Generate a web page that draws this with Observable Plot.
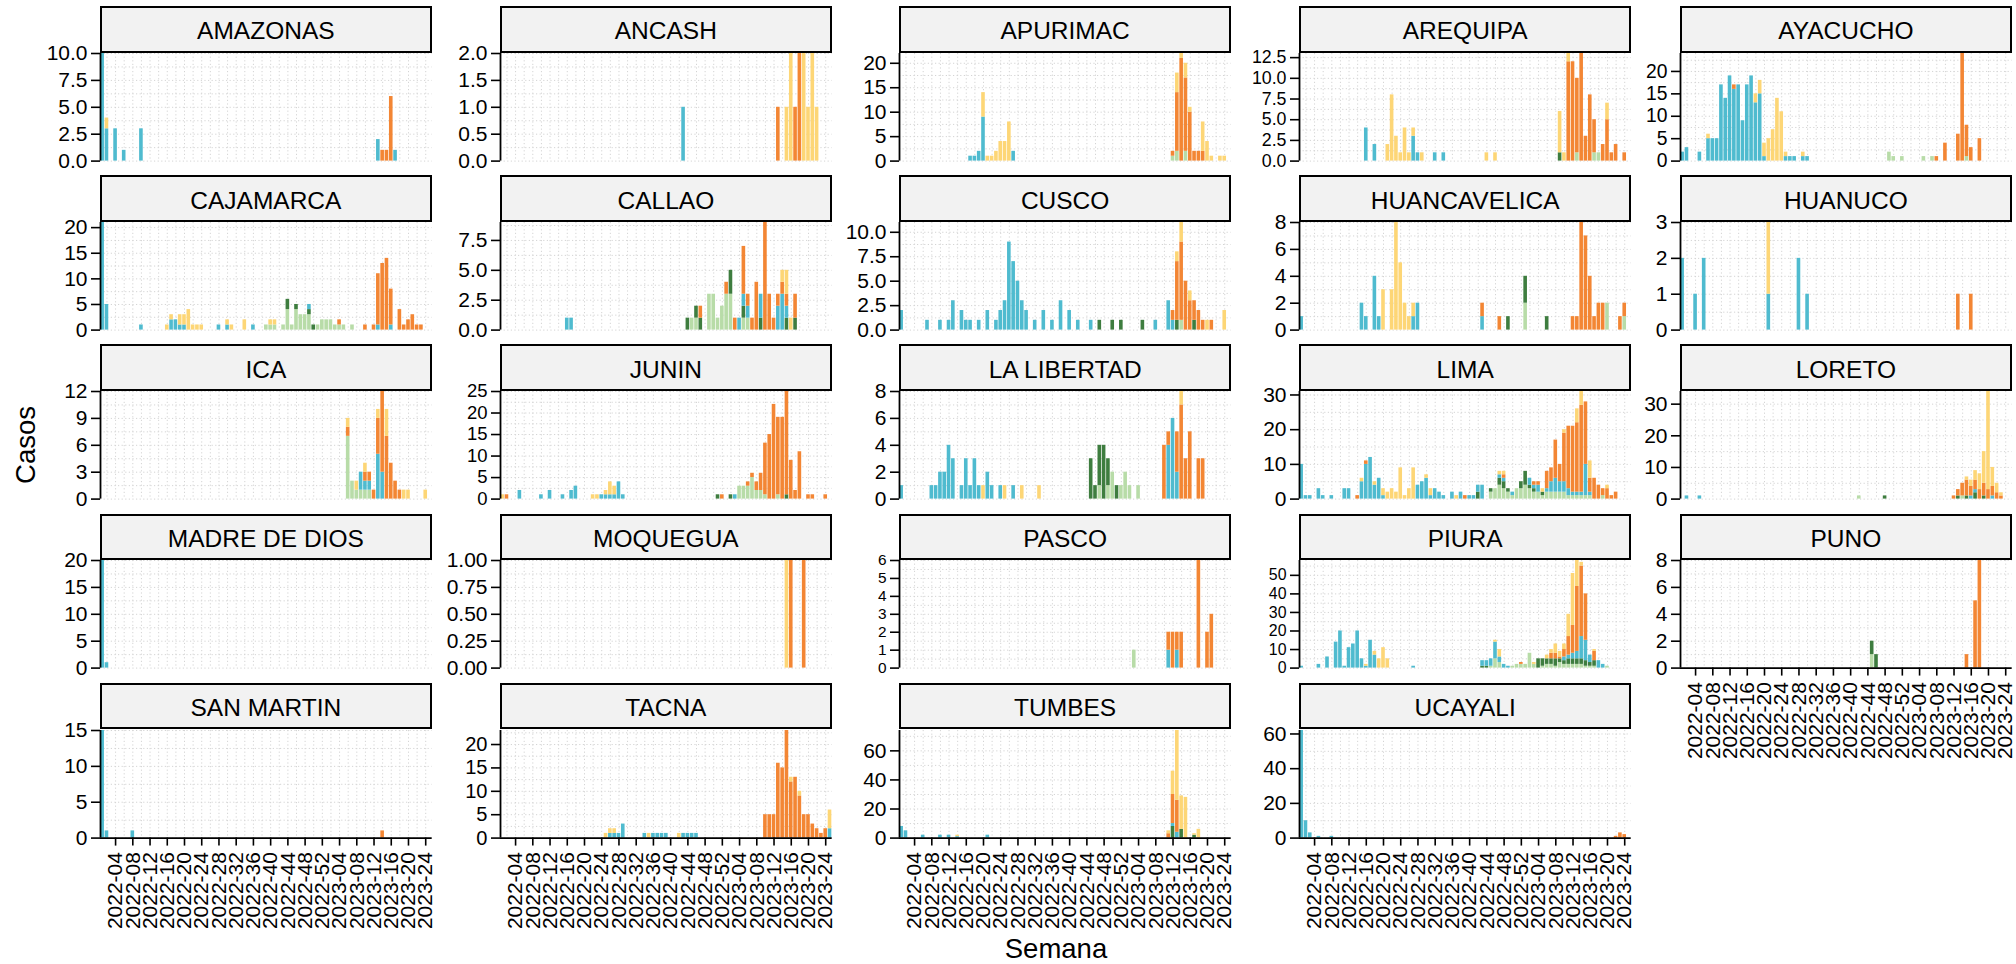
<!DOCTYPE html>
<html><head><meta charset="utf-8">
<script src="https://cdn.jsdelivr.net/npm/d3@7"></script>
<script src="https://cdn.jsdelivr.net/npm/@observablehq/plot@0.6"></script>
<style>
body{margin:0;background:#fff;color:#000;font-family:"Liberation Sans",Arial,sans-serif;}
#root{position:relative;width:2016px;height:964px;overflow:hidden;background:#fff;}
.strip{position:absolute;box-sizing:border-box;border:2px solid #000;background:#F2F2F2;font-size:24.5px;color:#000;display:flex;align-items:center;justify-content:center;padding-top:4px;white-space:nowrap;}
.panel{position:absolute;}
.title{position:absolute;font-size:27.5px;color:#000;text-align:center;white-space:nowrap;}
</style></head><body><div id="root"></div>
<script>
// ---- series (stack order bottom -> top) ----
const seriesKeys = ["L", "D", "B", "O", "Y"];
const seriesNames = ["Linaje L", "Linaje D", "Linaje B", "Linaje O", "Linaje Y"];
const seriesColors = ["#B8DCA8", "#3E7D3F", "#4FBBCF", "#F38634", "#FDD676"];

// ---- facets ----
const regions = ["AMAZONAS","ANCASH","APURIMAC","AREQUIPA","AYACUCHO",
  "CAJAMARCA","CALLAO","CUSCO","HUANCAVELICA","HUANUCO",
  "ICA","JUNIN","LA LIBERTAD","LIMA","LORETO",
  "MADRE DE DIOS","MOQUEGUA","PASCO","PIURA","PUNO",
  "SAN MARTIN","TACNA","TUMBES","UCAYALI"];

// ---- x axis (week index 1 = 2022-01 ... 77 = 2023-25) ----
const weekTicks = [4,8,12,16,20,24,28,32,36,40,44,48,52,56,60,64,68,72,76];
const weekLabels = ["2022-04","2022-08","2022-12","2022-16","2022-20","2022-24","2022-28","2022-32","2022-36","2022-40","2022-44","2022-48","2022-52","2023-04","2023-08","2023-12","2023-16","2023-20","2023-24"];

// ---- values: "week:count" per series ----
const AMAZONAS = {B:"1:10 2:3 4:3 6:1 10:3 65:2 69:1", Y:"2:1", O:"66:1 67:1 68:6"};
const ANCASH = {B:"43:1", O:"65:1 69:1 70:2", Y:"67:1 68:2 71:2 72:1 73:2 74:1"};
const APURIMAC = {L:"64:1 65:2 67:2", B:"17:1 18:1 19:2 20:9 27:2", O:"64:1 65:12 66:21 67:15 68:10 69:2 70:2 71:2", Y:"20:5 21:1 22:1 23:2 24:4 25:4 26:8 65:4 66:1 67:3 68:1 71:6 72:4 73:1 75:1 76:1"};
const AREQUIPA = {L:"65:1 69:1 70:1", D:"61:1", B:"16:4 18:2 27:3 28:1 32:1 34:1", O:"63:12 64:12 65:9 66:13 67:3 68:8 69:4 71:2 72:5 73:1 74:2 76:1", Y:"21:2 22:8 23:3 24:1 25:4 26:1 27:1 29:1 44:1 46:1 61:5 62:1 63:1 72:2"};
const AYACUCHO = {L:"49:2 50:1 52:1 57:1 59:1 67:1", B:"1:2 2:3 5:2 7:5 8:5 9:5 10:17 11:14 12:19 13:16 14:17 15:9 16:17 17:19 18:13 19:15 20:1 25:1 26:1 27:1 29:1 30:1", O:"13:1 60:1 62:4 65:6 66:24 67:7 68:3 70:5", Y:"7:1 18:2 19:3 20:3 21:5 22:7 23:14 24:11 25:1 29:1"};
const CAJAMARCA = {L:"39:1 40:1 41:1 43:1 44:4 45:1 46:4 47:3 48:3 49:3 51:1 52:2 53:2 54:2 55:1 56:1 57:1 59:1", D:"44:2 46:1 49:1 50:1", B:"1:21 2:5 10:1 17:2 18:2 19:1 20:1 28:1 30:1 36:1 49:1 65:1 68:1", O:"56:1 62:1 64:1 65:10 66:13 67:14 68:7 70:4 71:1 72:2 73:3 74:1 75:1", Y:"16:1 17:1 19:2 20:2 21:4 22:1 23:1 24:1 30:1 31:1 34:2 40:1 41:1"};
const CALLAO = {L:"45:1 46:1 49:3 50:3 51:1 52:2 53:3 54:3 57:1 58:1", D:"44:1 46:1 47:1 54:2 57:1 61:1 67:1 69:1", B:"16:1 17:1 56:1 57:1 58:1 61:2 65:2 66:3 67:1", O:"47:1 53:1 55:1 57:4 58:1 59:1 60:4 62:9 63:3 64:1 65:1 66:1 67:1 69:2", Y:"66:1 67:2 68:1"};
const CUSCO = {L:"66:1", D:"47:1 50:1 52:1 57:1 65:1 69:1", B:"1:2 7:1 10:1 12:1 13:3 15:2 16:1 17:1 19:1 21:2 23:1 24:2 25:3 26:9 27:7 28:5 29:3 30:2 32:1 34:2 36:1 38:3 40:2 42:1 45:1 60:1 63:3 64:1", O:"64:1 65:6 66:8 67:5 68:3 69:2 70:2 71:1 73:1", Y:"65:1 66:2 68:1 72:1 76:2"};
const HUANCAVELICA = {L:"53:2 72:2 76:1", D:"49:1 53:2 58:1", B:"1:1 15:2 16:1 18:4 19:1 27:1 28:2 43:1", O:"43:1 47:1 64:1 65:1 66:8 67:7 68:4 69:1 70:2 71:2 75:1 76:1", Y:"20:3 22:3 23:8 24:5 25:2 26:1 27:1"};
const HUANUCO = {B:"1:2 4:1 6:2 21:1 28:2 30:1", O:"65:1 68:1", Y:"21:2"};
const ICA = {L:"58:7 59:2 60:1 61:1 62:1 63:1", B:"61:2 62:1 63:1 65:5 66:3", O:"58:1 62:1 63:1 64:1 65:4 66:9 67:7 68:4 69:2 70:1", Y:"58:1 60:1 62:1 65:1 67:3 71:1 72:1 76:1"};
const JUNIN = {L:"56:3 57:3 58:3 59:5 60:2 61:2 62:1 65:1", D:"51:1 54:1 67:1", B:"5:2 10:1 12:2 15:1 17:2 18:3 24:1 25:1 26:1 27:1 28:4 29:1 55:1", O:"2:1 52:1 58:1 59:1 60:2 61:4 62:12 63:15 64:22 65:18 66:19 67:24 68:9 69:2 70:11 72:1 73:1 76:1", Y:"1:1 22:1 23:1 25:1 26:3 27:2"};
const LA_LIBERTAD = {L:"47:1 49:1 50:2 52:1 53:2 54:1 56:1", D:"45:3 46:1 47:3 48:4 49:2 51:1", B:"1:1 8:1 9:1 10:2 11:2 12:4 13:3 15:1 16:3 17:1 18:3 19:1 21:2 22:1 24:1 27:1 63:4 64:6 65:2", O:"62:4 63:1 65:3 66:7 67:3 68:5 70:3 71:3", Y:"20:1 25:1 29:1 33:1 66:1"};
const LIMA = {L:"45:2 46:3 47:4 48:3 49:2 50:1 51:3 52:3 53:4 54:3 55:2 56:2 57:1 58:2 59:2 60:2 61:2 62:2 63:1 64:1 65:1 66:1 67:1 68:1 71:1", D:"42:2 45:1 47:2 48:2 49:1 52:2 53:4 54:1 55:1 57:1", B:"1:10 2:1 3:1 5:3 6:1 8:1 11:3 12:3 15:5 16:10 17:12 18:4 19:6 20:1 28:4 29:5 30:6 31:1 32:3 33:2 34:1 36:2 38:2 40:1 41:1 42:2 43:4 47:1 48:1 50:1 54:2 55:1 56:2 58:1 59:3 60:4 61:3 62:3 63:2 64:1 65:1 66:1 67:9 68:1", O:"14:1 16:1 39:1 48:1 55:1 56:1 58:5 59:4 60:11 61:5 62:14 63:18 64:19 65:20 66:25 67:18 68:4 69:6 70:4 71:2 72:3 73:1 74:2", Y:"15:1 18:1 20:2 21:2 22:3 23:2 24:9 25:1 26:3 27:9 30:1 31:2 37:1 47:1 48:1 57:1 62:1 65:4 66:4 68:5 72:1"};
const LORETO = {L:"42:1 66:1", D:"48:1 65:1 67:1 69:2 71:1", B:"2:1 5:1 68:1 69:1 73:1", O:"64:1 65:2 66:4 67:5 68:3 69:3 70:3 71:4 72:3 73:3 74:2 75:1", Y:"67:1 68:2 69:3 70:5 71:10 72:31 73:6 74:3 75:1"};
const MADRE_DE_DIOS = {B:"1:20 2:1"};
const MOQUEGUA = {O:"68:1 71:1", Y:"67:1"};
const PASCO = {L:"55:1", B:"63:1 65:1", O:"63:1 64:2 65:1 66:2 70:6 72:2 73:3"};
const PIURA = {L:"45:1 46:5 47:3 50:1 51:2 52:2 53:2 54:8 55:2 57:1 58:2 59:2 60:1 61:3 62:2 63:2 64:2 65:2 66:2 67:1 68:1 69:1 72:1", D:"43:1 44:1 56:5 57:4 58:3 59:3 60:4 61:2 62:2 63:3 64:3 65:3 66:3 67:3 68:2 69:3", B:"1:1 5:2 7:6 9:14 10:20 11:1 12:11 13:13 14:20 15:5 16:1 17:15 18:7 27:1 43:3 44:3 45:4 46:9 47:3 48:2 49:1 62:2 63:2 64:3 65:4 66:12 67:11 68:4 70:4 71:2", O:"52:1 59:3 60:3 61:1 62:4 63:10 64:15 65:35 66:38 67:25 69:5", Y:"16:1 18:2 19:5 20:11 21:5 46:1 47:4 55:1 58:2 59:2 60:5 61:3 62:3 63:12 64:28 65:14 66:2 69:1"};
const PUNO = {L:"45:1", D:"45:1 46:1", O:"67:1 69:5 70:8"};
const SAN_MARTIN = {B:"1:15 2:1 8:1", O:"66:1"};
const TACNA = {B:"26:1 27:1 28:1 29:3 34:1 36:1 37:1 38:1 39:1 43:1 44:1 45:1 46:1 77:2", O:"62:5 63:5 64:5 65:16 66:15 67:23 68:12 69:13 70:9 71:5 72:5 73:3 74:2 75:1 76:2", Y:"25:1 26:1 27:1 35:1 42:1 68:1 70:1 77:4"};
const TUMBES = {D:"64:8 66:6 69:2", B:"1:8 2:5 6:2 10:2 12:2 14:1 21:2 64:2 65:4", O:"63:3 64:20 65:22", Y:"14:1 63:2 64:16 65:48 66:23 67:28 69:1 70:6"};
const UCAYALI = {B:"1:62 2:10 3:3 5:1 8:1", O:"74:1 75:3 76:2"};

const regionData = {AMAZONAS, ANCASH, APURIMAC, AREQUIPA, AYACUCHO, CAJAMARCA, CALLAO, CUSCO,
  HUANCAVELICA, HUANUCO, ICA, JUNIN, "LA LIBERTAD": LA_LIBERTAD, LIMA, LORETO,
  "MADRE DE DIOS": MADRE_DE_DIOS, MOQUEGUA, PASCO, PIURA, PUNO, "SAN MARTIN": SAN_MARTIN,
  TACNA, TUMBES, UCAYALI};

// ---- y tick values per facet ----
const yTicks = {
  "AMAZONAS":[0,2.5,5,7.5,10], "ANCASH":[0,0.5,1,1.5,2], "APURIMAC":[0,5,10,15,20],
  "AREQUIPA":[0,2.5,5,7.5,10,12.5], "AYACUCHO":[0,5,10,15,20], "CAJAMARCA":[0,5,10,15,20],
  "CALLAO":[0,2.5,5,7.5], "CUSCO":[0,2.5,5,7.5,10], "HUANCAVELICA":[0,2,4,6,8],
  "HUANUCO":[0,1,2,3], "ICA":[0,3,6,9,12], "JUNIN":[0,5,10,15,20,25],
  "LA LIBERTAD":[0,2,4,6,8], "LIMA":[0,10,20,30], "LORETO":[0,10,20,30],
  "MADRE DE DIOS":[0,5,10,15,20], "MOQUEGUA":[0,0.25,0.5,0.75,1], "PASCO":[0,1,2,3,4,5,6],
  "PIURA":[0,10,20,30,40,50], "PUNO":[0,2,4,6,8], "SAN MARTIN":[0,5,10,15],
  "TACNA":[0,5,10,15,20], "TUMBES":[0,20,40,60], "UCAYALI":[0,20,40,60]
};

// ---- layout ----
const colX = [100, 500, 899.3, 1299.3, 1680];
const PW = 331.7, SH = 46.7, PH = 107.6, ROW0 = 6, PITCH = 169.2;
const ML = 80, MR = 6, MT = 12, TICK_FONT = 21;

function parseRegion(obj) {
  const rows = [];
  seriesKeys.forEach((k, si) => {
    if (!obj[k]) return;
    for (const tok of obj[k].trim().split(/\s+/)) {
      const [w, v] = tok.split(":").map(Number);
      rows.push({w, v, s: k, name: seriesNames[si]});
    }
  });
  return rows;
}
function decimals(t) { const s = String(t); const i = s.indexOf("."); return i < 0 ? 0 : s.length - i - 1; }

const root = document.getElementById("root");
const gridStyle = {stroke: "#d4d4d4", strokeOpacity: 1, strokeWidth: 1, strokeDasharray: "1.2,2.4"};
const xGrid = d3.range(2, 77, 2).map(w => w + 0.5);

regions.forEach((name, i) => {
  const col = i % 5, row = Math.floor(i / 5);
  const hasX = row === 4 || (row === 3 && col === 4);
  const rows = parseRegion(regionData[name]);
  const maxY = d3.max(d3.rollup(rows, v => d3.sum(v, d => d.v), d => d.w).values());
  const ticks = yTicks[name];
  const step = ticks[1] - ticks[0];
  const minor = ticks.slice(1).map(t => t - step / 2);
  if (ticks[ticks.length - 1] + step / 2 <= maxY) minor.push(ticks[ticks.length - 1] + step / 2);
  const dec = d3.max(ticks, decimals);
  // spacing between tick labels in px; keep label boxes from colliding
  const spacing = step / maxY * PH;
  const fs = Math.min(TICK_FONT, Math.floor(spacing / 1.16 * 10) / 10);
  const MB = hasX ? 100 : 2;
  const stripTop = ROW0 + row * PITCH;

  const strip = document.createElement("div");
  strip.className = "strip";
  strip.style.left = colX[col] + "px";
  strip.style.top = stripTop + "px";
  strip.style.width = PW + "px";
  strip.style.height = SH + "px";
  strip.textContent = name;

  const marks = [
    Plot.gridY([...ticks, ...minor], gridStyle),
    Plot.gridX(xGrid, gridStyle),
    Plot.rectY(rows, Plot.stackY({x1: "w", x2: d => d.w + 1, y: "v", z: "s", fill: "s",
      order: seriesKeys, insetLeft: 0.35, insetRight: 0.35})),
    Plot.ruleX([1], {stroke: "#000", strokeWidth: 1.8}),
    Plot.axisY(ticks, {anchor: "left", tickSize: 9, tickPadding: 4, fontSize: fs,
      tickFormat: d => d.toFixed(dec), label: null, strokeWidth: 1.6})
  ];
  if (hasX) {
    marks.push(Plot.ruleY([0], {stroke: "#000", strokeWidth: 1.8}));
    marks.push(Plot.axisX(weekTicks.map(w => w + 0.5), {anchor: "bottom", tickSize: 8, tickPadding: 6,
      fontSize: TICK_FONT, tickRotate: -90, label: null, strokeWidth: 1.6,
      tickFormat: t => weekLabels[weekTicks.indexOf(t - 0.5)]}));
  }
  const svg = Plot.plot({
    width: ML + PW + MR, height: MT + PH + MB,
    marginLeft: ML, marginRight: MR, marginTop: MT, marginBottom: MB,
    x: {type: "linear", domain: [1, 78], axis: null},
    y: {domain: [0, maxY], axis: null},
    color: {domain: seriesKeys, range: seriesColors},
    style: {fontFamily: "'Liberation Sans', Arial, sans-serif", background: "none", overflow: "visible", color: "#000"},
    marks
  });
  const wrap = document.createElement("div");
  wrap.className = "panel";
  wrap.style.left = (colX[col] - ML) + "px";
  wrap.style.top = (stripTop + SH - MT) + "px";
  wrap.style.width = (ML + PW + MR) + "px";
  wrap.appendChild(svg);
  root.appendChild(wrap);
  root.appendChild(strip);
});

const xt = document.createElement("div");
xt.className = "title";
xt.style.left = (1056 - 200) + "px"; xt.style.width = "400px";
xt.style.top = "935px"; xt.style.lineHeight = "27.5px";
xt.textContent = "Semana";
root.appendChild(xt);

const yt = document.createElement("div");
yt.className = "title";
yt.style.left = (26 - 100) + "px"; yt.style.width = "200px";
yt.style.top = (445 - 15) + "px"; yt.style.height = "30px"; yt.style.lineHeight = "30px";
yt.style.transform = "rotate(-90deg)";
yt.textContent = "Casos";
root.appendChild(yt);
</script></body></html>
